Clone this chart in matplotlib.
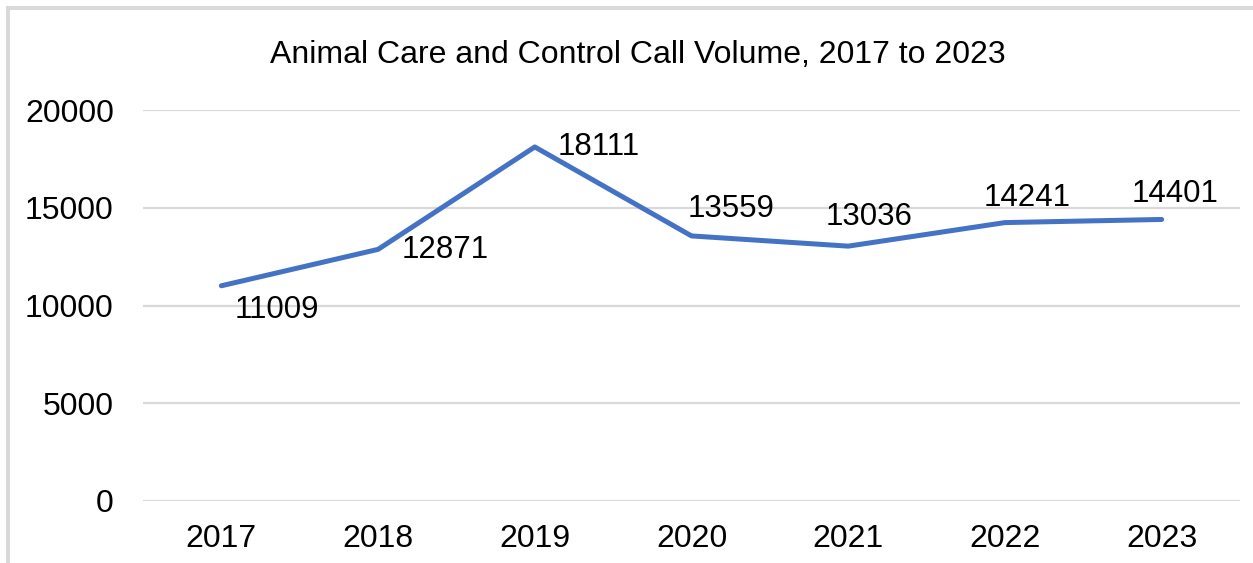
import matplotlib
matplotlib.use("Agg")
import matplotlib.pyplot as plt
from matplotlib.lines import Line2D

years = ["2017", "2018", "2019", "2020", "2021", "2022", "2023"]
calls = [11009, 12871, 18111, 13559, 13036, 14241, 14401]
# label offsets of label centre from point, in pixels (right, up)
label_dx = [56, 67, 64, 40, 21, 22, 13]
label_dy = [-24, -1, 0, 27, 29, 25, 25]
yticks = [0, 5000, 10000, 15000, 20000]

plt.rcParams['font.family'] = ['Liberation Sans', 'DejaVu Sans']

W, H = 1253, 563
fig = plt.figure(figsize=(W / 100, H / 100), dpi=100)
ax = fig.add_axes([143 / W, 1 - 501 / H, (1240 - 143) / W, (501 - 110) / H])

x = list(range(len(years)))
ax.plot(x, calls, color="#4472C4", lw=3.6, solid_capstyle="round", solid_joinstyle="round", zorder=3)
for xi, v, dx, dy in zip(x, calls, label_dx, label_dy):
    ax.annotate(str(v), (xi, v), xytext=(dx, dy), textcoords="offset pixels",
                ha="center", va="center", fontsize=22.5, color="black", zorder=4)

ax.set_xlim(-0.5, len(years) - 0.5)
ax.set_ylim(0, 20000)
ax.set_yticks(yticks)
ax.set_xticks(x)
ax.set_xticklabels(years)
ax.tick_params(axis="both", length=0, labelsize=23, colors="black")
ax.tick_params(axis="y", pad=21)
ax.tick_params(axis="x", pad=16.5)
ax.grid(axis="y", color="#d9d9d9", lw=1.6)
ax.set_axisbelow(True)
for s in ax.spines.values():
    s.set_visible(False)

fig.text(638 / W, 1 - 55 / H, "Animal Care and Control Call Volume, 2017 to 2023",
         ha="center", va="center", fontsize=23, color="black")

# outer frame (top and left edges visible)
fig.add_artist(Line2D([8 / W, 1], [1 - 8 / H, 1 - 8 / H], transform=fig.transFigure, color="#d9d9d9", lw=2.8))
fig.add_artist(Line2D([8 / W, 8 / W], [0, 1 - 8 / H], transform=fig.transFigure, color="#d9d9d9", lw=2.8))

fig.savefig("out.png", dpi=100)
